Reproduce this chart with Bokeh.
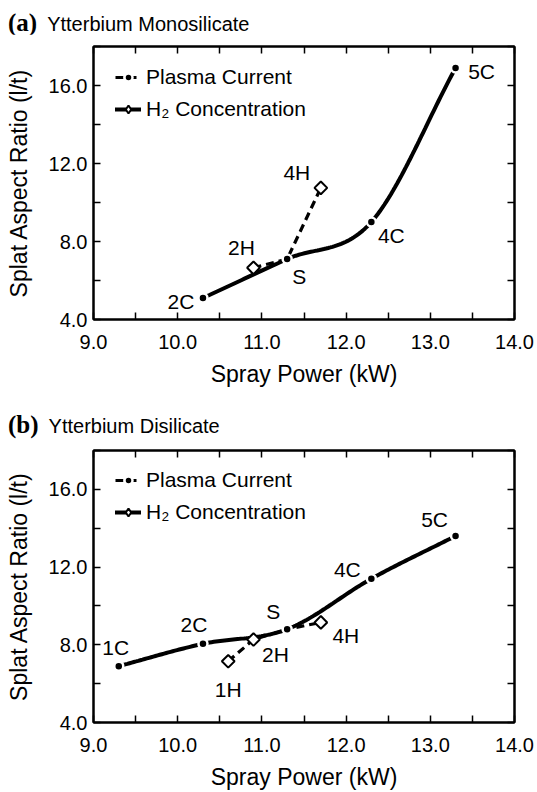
import numpy as np
from bokeh.plotting import figure
from bokeh.layouts import column
from bokeh.models import (LinearAxis, Range1d, FixedTicker, PrintfTickFormatter,
                          Legend, LegendItem, ColumnDataSource, Div, CustomLabelingPolicy)
from bokeh.core.properties import value
from bokeh.embed import file_html
from bokeh.resources import INLINE

# ---------------- data ----------------
# (a) Ytterbium Monosilicate
a_c_names = ["2C", "S", "4C", "5C"]
a_c_power = [10.3, 11.3, 12.3, 13.3]
a_c_ratio = [5.1, 7.1, 9.0, 16.9]
a_h_names = ["2H", "S", "4H"]
a_h_power = [10.9, 11.3, 11.7]
a_h_ratio = [6.65, 7.1, 10.75]

# (b) Ytterbium Disilicate
b_c_names = ["1C", "2C", "S", "4C", "5C"]
b_c_power = [9.3, 10.3, 11.3, 12.3, 13.3]
b_c_ratio = [6.9, 8.05, 8.8, 11.4, 13.6]
b_h_names = ["1H", "2H", "S", "4H"]
b_h_power = [10.6, 10.9, 11.3, 11.7]
b_h_ratio = [7.15, 8.27, 8.8, 9.15]

x_major = [9.0, 10.0, 11.0, 12.0, 13.0, 14.0]
x_minor = [9.5, 10.5, 11.5, 12.5, 13.5]
y_major = [4.0, 8.0, 12.0, 16.0]
y_minor = [6.0, 10.0, 14.0, 18.0]

x_title = "Spray Power (kW)"
y_title = "Splat Aspect Ratio (l/t)"
legend_labels = ["Plasma Current", "H\u2082 Concentration"]

# label offsets in screen pixels (style only)
a_c_off = [(-22, 3), (12, 17), (20, 13), (26, 4)]
a_h_off = [(-12, -20), None, (-24, -15)]
b_c_off = [(-3, -19), (-9, -19), (-14, -18), (-24, -9), (-21, -16)]
b_h_off = [(0, 28), (22, 15), None, (25, 13)]

SANS = "Liberation Sans"
SERIF = "Liberation Serif"


def catmull_rom(xs, ys, n=40):
    P = np.column_stack([xs, ys]).astype(float)
    k = len(P)
    out = []
    for i in range(k - 1):
        p1, p2 = P[i], P[i + 1]
        m1 = (P[i + 1] - P[i - 1]) / 2 if i > 0 else (p2 - p1)
        m2 = (P[i + 2] - P[i]) / 2 if i + 2 < k else (p2 - p1)
        t = np.linspace(0, 1, n)[:, None]
        h00 = 2 * t**3 - 3 * t**2 + 1
        h10 = t**3 - 2 * t**2 + t
        h01 = -2 * t**3 + 3 * t**2
        h11 = t**3 - t**2
        seg = h00 * p1 + h10 * m1 + h01 * p2 + h11 * m2
        out.append(seg if i == 0 else seg[1:])
    arr = np.vstack(out)
    return arr[:, 0], arr[:, 1]


def title_div(letter, name, height, pad_top):
    html = (f'<div style="padding-top:{pad_top}px;padding-left:8px;white-space:nowrap;'
            f'line-height:24px;color:black;font-family:\'{SANS}\';font-size:20px;">'
            f'<span style="font-family:\'{SERIF}\';font-weight:bold;font-size:25px;">{letter}</span>'
            f'<span style="margin-left:10px;">{name}</span></div>')
    return Div(text=html, width=537, height=height, margin=(0, 0, 0, 0),
               styles={"padding": "0px", "margin": "0px"})


def make_panel(c_names, c_x, c_y, h_names, h_x, h_y, c_off, h_off,
               height, top, bottom):
    p = figure(width=537, height=height, x_range=Range1d(9, 14), y_range=Range1d(4, 18),
               output_backend="svg", toolbar_location=None,
               min_border_left=93, min_border_right=23,
               min_border_top=top, min_border_bottom=bottom)
    p.grid.visible = False
    p.outline_line_color = "black"
    p.outline_line_width = 2
    p.background_fill_color = "white"
    p.border_fill_color = "white"

    def style_axis(ax, xdir, show):
        ax.ticker = FixedTicker(ticks=x_major if xdir else y_major,
                                minor_ticks=x_minor if xdir else y_minor)
        ax.formatter = PrintfTickFormatter(format="%.1f")
        ax.axis_line_width = 2
        ax.axis_line_color = "black"
        ax.major_tick_in = 7
        ax.major_tick_out = 0
        ax.minor_tick_in = 7
        ax.minor_tick_out = 0
        ax.major_tick_line_width = 1.5
        ax.minor_tick_line_width = 1.5
        ax.major_tick_line_color = "black"
        ax.minor_tick_line_color = "black"
        if show:
            ax.major_label_text_font = SANS
            ax.major_label_text_font_size = "20px"
            ax.major_label_text_color = "black"
            ax.axis_label_text_font = SANS
            ax.axis_label_text_font_size = "23px"
            ax.axis_label_text_font_style = "normal"
            ax.axis_label_text_color = "black"
        else:
            ax.major_label_text_font_size = "0px"
            ax.major_label_standoff = 0
            ax.major_label_policy = CustomLabelingPolicy(code="return new Set()")

    xa = p.xaxis[0]
    ya = p.yaxis[0]
    style_axis(xa, True, True)
    style_axis(ya, False, True)
    xa.axis_label = x_title
    ya.axis_label = y_title
    xa.major_label_standoff = 15
    xa.axis_label_standoff = 9
    ya.major_label_standoff = 6
    ya.axis_label_standoff = 14

    top_ax = LinearAxis()
    style_axis(top_ax, True, False)
    p.add_layout(top_ax, "above")
    right_ax = LinearAxis()
    style_axis(right_ax, False, False)
    p.add_layout(right_ax, "right")

    # curves
    cx, cy = catmull_rom(c_x, c_y)
    c_line = p.line(cx, cy, line_color="black", line_width=4, line_cap="round")
    h_line = p.line(h_x, h_y, line_color="black", line_width=3.2, line_dash="8 5")

    # markers
    c_pts = p.scatter(c_x, c_y, marker="circle", size=9, fill_color="black",
                      line_color="white", line_width=2.5)
    hm = [i for i, n in enumerate(h_names) if n != "S"]
    hx = [h_x[i] for i in hm]
    hy = [h_y[i] for i in hm]
    p.scatter(hx, hy, marker="square", angle=np.pi / 4, size=9, fill_color="white",
              line_color="black", line_width=2)
    # same points as a diamond glyph, hidden, used only for the legend icon
    h_leg = p.scatter(hx, hy, marker="diamond", size=13, fill_color="white",
                      line_color="black", line_width=2, visible=False)

    # point labels
    lx, ly, lt, dx, dy = [], [], [], [], []
    for names, xs, ys, offs in ((c_names, c_x, c_y, c_off), (h_names, h_x, h_y, h_off)):
        for n, x, y, o in zip(names, xs, ys, offs):
            if o is None:
                continue
            lx.append(x); ly.append(y); lt.append(n); dx.append(o[0]); dy.append(o[1])
    src = ColumnDataSource(dict(x=lx, y=ly, t=lt, dx=dx, dy=dy))
    p.text(x="x", y="y", text="t", x_offset="dx", y_offset="dy", source=src,
           text_font=value(SANS), text_font_size="21px", text_color="black",
           text_align="center", text_baseline="middle")

    # legend: icons as in the reference (dashed + dot, solid + diamond)
    leg = Legend(items=[LegendItem(label=legend_labels[0], renderers=[h_line, c_pts]),
                        LegendItem(label=legend_labels[1], renderers=[c_line, h_leg])],
                 location=(22, 198), padding=0, margin=0, spacing=8,
                 glyph_width=26, glyph_height=20, label_height=20, label_standoff=5,
                 background_fill_alpha=0, border_line_color=None,
                 label_text_font=SANS, label_text_font_size="21px",
                 label_text_color="black", click_policy="none")
    p.add_layout(leg)
    return p


div_a = title_div("(a)", "Ytterbium Monosilicate", 34, 11)
pa = make_panel(a_c_names, a_c_power, a_c_ratio, a_h_names, a_h_power, a_h_ratio,
                a_c_off, a_h_off, height=362, top=12, bottom=77)
div_b = title_div("(b)", "Ytterbium Disilicate", 42, 17)
pb = make_panel(b_c_names, b_c_power, b_c_ratio, b_h_names, b_h_power, b_h_ratio,
                b_c_off, b_h_off, height=354, top=12, bottom=69)

layout = column(div_a, pa, div_b, pb, spacing=0)
open("out.html", "w").write(file_html(layout, INLINE))
